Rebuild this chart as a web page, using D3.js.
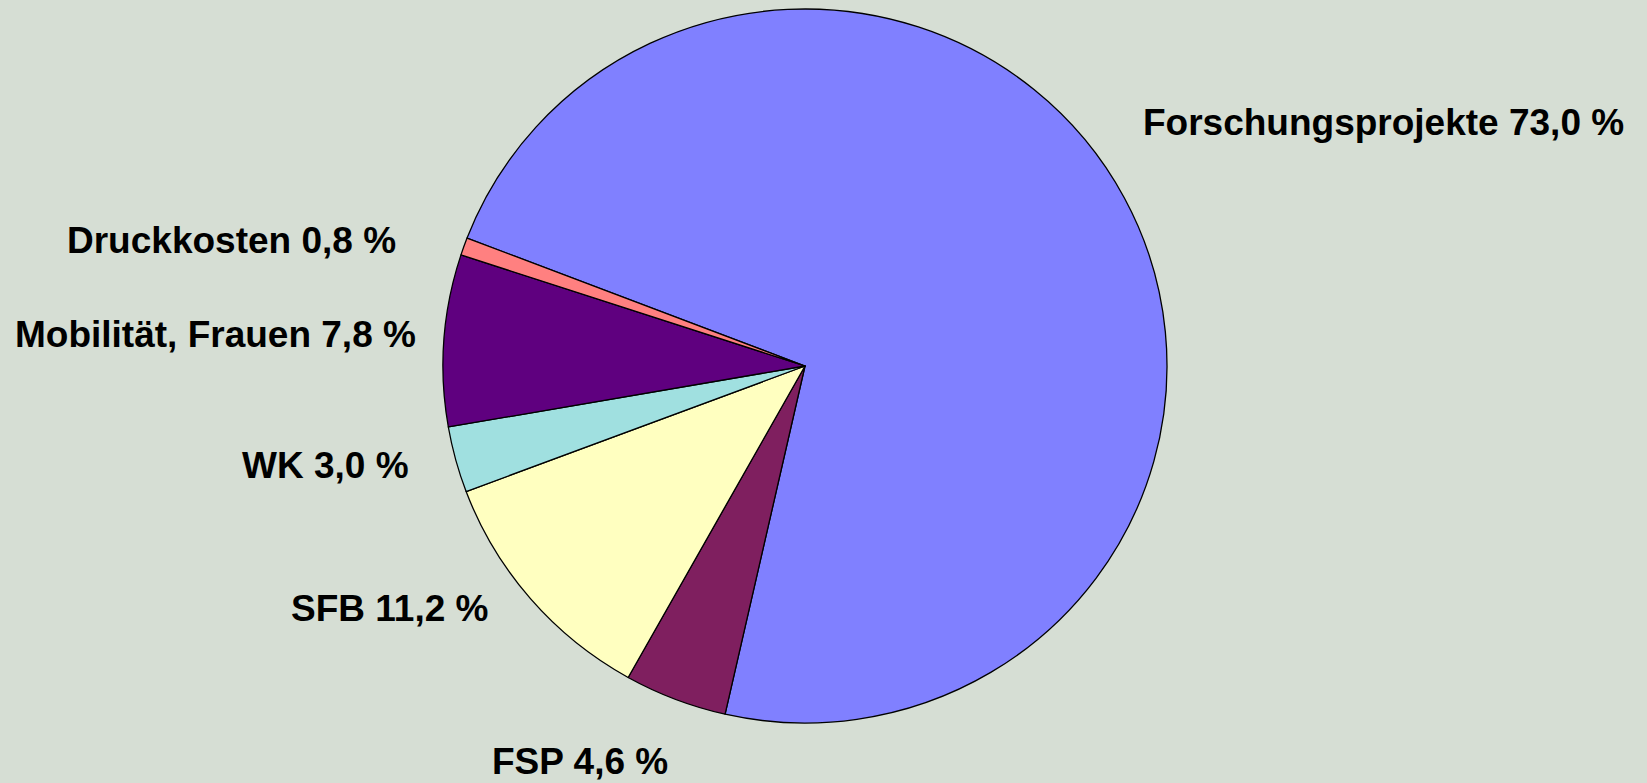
<!DOCTYPE html>
<html>
<head>
<meta charset="utf-8">
<script src="https://cdn.jsdelivr.net/npm/d3@7"></script>
<style>
  html, body { margin: 0; padding: 0; background: #d6ded4; }
  .label { font-family: "Liberation Sans", Arial, sans-serif; font-weight: bold; font-size: 37px; fill: #000; }
</style>
</head>
<body>
<div id="chart"></div>
<script>
var svgWidth = 1647;
var svgHeight = 783;

// slices, clockwise from the first one
var categories = ["Forschungsprojekte", "FSP", "SFB", "WK", "Mobilität, Frauen", "Druckkosten"];
var shares = [73.0, 4.6, 11.2, 3.0, 7.8, 0.8];
var shareLabels = ["73,0 %", "4,6 %", "11,2 %", "3,0 %", "7,8 %", "0,8 %"];
var colors = ["#8080ff", "#7f1f5f", "#ffffc0", "#a0e0e0", "#5f007f", "#ff8080"];

// where the labels were dragged to (left edge, baseline)
var labelPos = [[1143, 135], [492, 774], [291, 621], [242, 478], [15, 347], [67, 253]];

var cx = 805, cy = 366;
var rx = 362, ry = 357;

var svg = d3.select("#chart")
  .append("svg")
  .attr("width", svgWidth)
  .attr("height", svgHeight);

svg.append("rect")
  .attr("width", svgWidth)
  .attr("height", svgHeight)
  .attr("fill", "#d6ded4");

var start = -69 * Math.PI / 180;

var pie = d3.pie()
  .sort(null)
  .startAngle(start)
  .endAngle(start + 2 * Math.PI)
  .value(function(d) { return d; });

var arc = d3.arc()
  .innerRadius(0)
  .outerRadius(rx);

// pie is a touch squashed vertically, like the original
var pieG = svg.append("g")
  .attr("transform", "translate(" + cx + "," + cy + ") scale(1," + (ry / rx) + ")");

pieG.selectAll("path")
  .data(pie(shares))
  .enter().append("path")
    .attr("d", arc)
    .attr("fill", function(d, i) { return colors[i]; })
    .attr("stroke", "#000")
    .attr("stroke-width", 1.3)
    .attr("stroke-linejoin", "round");

svg.selectAll("text.label")
  .data(categories)
  .enter().append("text")
    .attr("class", "label")
    .attr("x", function(d, i) { return labelPos[i][0]; })
    .attr("y", function(d, i) { return labelPos[i][1]; })
    .text(function(d, i) { return d + " " + shareLabels[i]; });
</script>
</body>
</html>
